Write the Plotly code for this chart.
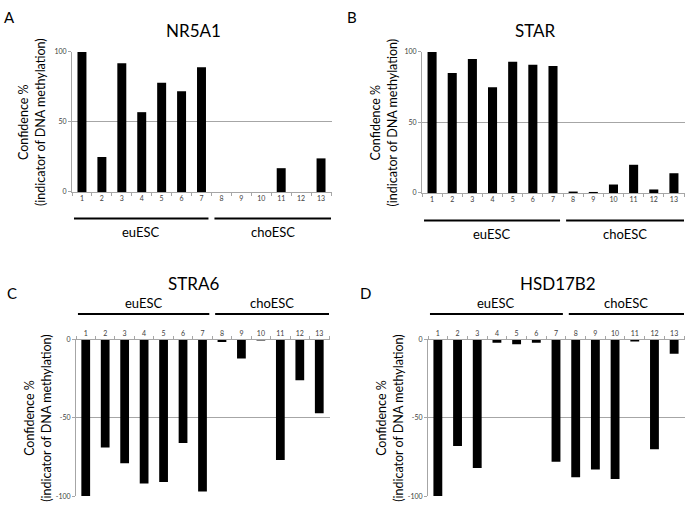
import plotly.graph_objects as go

samples = [str(i) for i in range(1, 14)]
nr5a1 = [100, 25, 92, 57, 78, 72, 89, 0, 0, 0, 17, 0, 24]
star = [100, 85, 95, 75, 93, 91, 90, 1, 0.3, 6, 20, 2.5, 14]
stra6 = [-100, -69, -79, -92, -91, -66, -97, -1.5, -12, -0.5, -77, -26, -47]
hsd17b2 = [-100, -68, -82, -2, -3, -2, -78, -88, -83, -89, -1, -70, -9]
titles = ["NR5A1", "STAR", "STRA6", "HSD17B2"]
letters = ["A", "B", "C", "D"]
groups = ["euESC", "choESC"]
ytitle_lines = ["Confidence %", "(indicator of DNA methylation)"]

W, H = 689, 506
def px(x): return x / W
def py(y): return 1 - y / H

FONT = "Lato, 'Open Sans', sans-serif"
GRID = "#a6a6a6"

panels = [
    dict(data=nr5a1, x0=72, x1=332, yt=47.7, yb=190, top=False,
         tx=193, ty=26, lx=9, ly=12, ytx=(24, 41), gy=217, gly=231),
    dict(data=star, x0=422, x1=685, yt=47.7, yb=191, top=False,
         tx=535, ty=26, lx=352, ly=12, ytx=(375, 392), gy=219, gly=233),
    dict(data=stra6, x0=76, x1=330, yt=340, yb=499, top=True,
         tx=193, ty=283, lx=12, ly=293, ytx=(30, 47), gy=314, gly=303),
    dict(data=hsd17b2, x0=428, x1=685, yt=340, yb=499, top=True,
         tx=558, ty=283, lx=365, ly=293, ytx=(382, 399), gy=314, gly=303),
]

fig = go.Figure()
shapes = []
annotations = []
for i, p in enumerate(panels):
    n = "" if i == 0 else str(i + 1)
    xa, ya = "x" + n, "y" + n
    fig.add_trace(go.Bar(x=samples, y=p["data"], xaxis=xa, yaxis=ya,
                         marker=dict(color="black", line=dict(width=0)),
                         width=0.45, showlegend=False))
    xkey, ykey = "xaxis" + n, "yaxis" + n
    if p["top"]:
        yrange = [-100, 0]
        ytv = [-100, -50, 0]
    else:
        yrange = [0, 100]
        ytv = [0, 50, 100]
    fig.layout[xkey] = dict(
        domain=[px(p["x0"]), px(p["x1"])], anchor=ya, type="category",
        side="top" if p["top"] else "bottom",
        showline=True, linecolor=GRID, linewidth=1,
        ticks="outside", tickson="boundaries", ticklen=3, tickcolor=GRID,
        tickfont=dict(size=7, color="#404040", family=FONT),
        showgrid=False, zeroline=False, fixedrange=True)
    fig.layout[ykey] = dict(
        domain=[py(p["yb"]), py(p["yt"])], anchor=xa, range=yrange,
        tickvals=ytv, ticktext=[str(v) for v in ytv],
        showline=True, linecolor=GRID, linewidth=1,
        ticks="outside", ticklen=3, tickcolor=GRID,
        tickfont=dict(size=7, color="#404040", family=FONT),
        showgrid=True, gridcolor=GRID, gridwidth=1, zeroline=False,
        fixedrange=True)
    annotations.append(dict(text=titles[i], x=px(p["tx"]), y=py(p["ty"]),
                            xref="paper", yref="paper", showarrow=False,
                            font=dict(size=17, color="black", family=FONT),
                            xanchor="center", yanchor="middle"))
    annotations.append(dict(text=letters[i], x=px(p["lx"]), y=py(p["ly"]),
                            xref="paper", yref="paper", showarrow=False,
                            font=dict(size=15, color="black", family=FONT),
                            xanchor="center", yanchor="middle"))
    for line_txt, lx in zip(ytitle_lines, p["ytx"]):
        annotations.append(dict(text=line_txt, x=px(lx),
                                y=py((p["yt"] + p["yb"]) / 2),
                                xref="paper", yref="paper", showarrow=False,
                                textangle=-90,
                                font=dict(size=12.5, color="black", family=FONT),
                                xanchor="center", yanchor="middle"))
    for (a, b), g in zip([(-0.4, 6.35), (6.65, 12.5)], groups):
        shapes.append(dict(type="line", xref=xa, yref="paper",
                           x0=a, x1=b, y0=py(p["gy"]), y1=py(p["gy"]),
                           line=dict(color="black", width=2)))
        annotations.append(dict(text=g, x=(a + b) / 2, y=py(p["gly"]),
                                xref=xa, yref="paper", showarrow=False,
                                font=dict(size=13, color="black", family=FONT),
                                xanchor="center", yanchor="middle"))

fig.update_layout(width=W, height=H, margin=dict(l=0, r=0, t=0, b=0),
                  paper_bgcolor="white", plot_bgcolor="white",
                  shapes=shapes, annotations=annotations, bargap=0.55)
fig.write_html("out.html", config={"displayModeBar": False},
               post_script="document.body.style.margin='0';document.body.style.overflow='hidden';")
